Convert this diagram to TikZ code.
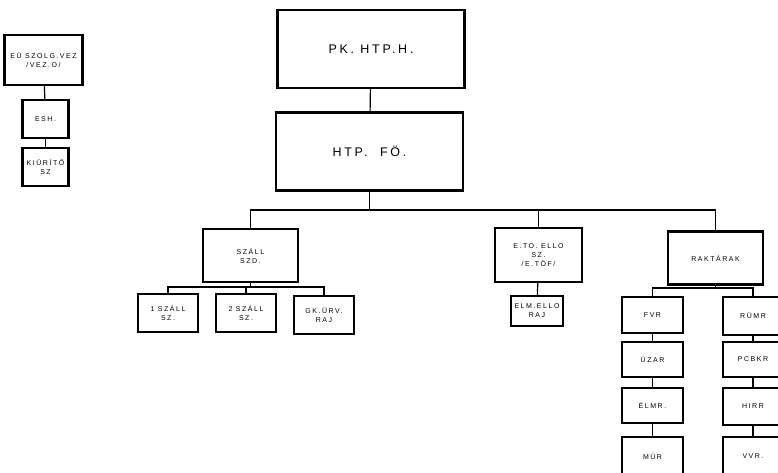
\documentclass[tikz,border=0pt]{standalone}
\usepackage{fontspec}
\newfontfamily\stencil[LetterSpace=22]{Liberation Sans}

\begin{document}
\begin{tikzpicture}[x=1pt,y=-1pt,
  box/.style={draw, line width=2.2pt, align=center, inner sep=0pt,
    font=\stencil\fontsize{7}{9}\selectfont},
  bigbox/.style={box, minimum width=187pt, minimum height=78pt,
    font=\stencil\fontsize{12.5}{14}\selectfont},
  midbox/.style={box, minimum width=95pt, minimum height=53pt},
  unitbox/.style={box, minimum width=60pt, minimum height=38pt},
  link/.style={line width=1.2pt}]
\useasboundingbox (0,0) rectangle (778,472);
\clip (0,0) rectangle (778,472);
\coordinate (bar) at (0,210);
% left column
\node[box, minimum width=78pt, minimum height=50pt] (eu) at (43.5,60) {EÜ SZOLG.VEZ\\/VEZ.O/};
\node[box, minimum width=46pt, minimum height=38pt] (esh) at (45.5,119) {ESH.};
\node[box, minimum width=46pt, minimum height=38pt] (kiur) at (45.5,167) {KIÜRÍTŐ\\SZ};
\draw[link] (eu) -- (esh);
\draw[link] (esh) -- (kiur);
% top
\node[bigbox] (pk) at (371,49) {PK. HTP.H.};
\node[bigbox] (fo) at (369.5,151.5) {HTP. \ FÖ.};
\draw[link] (pk) -- (fo);
% second level
\node[midbox] (szall) at (250.5,255.5) {SZÁLL\\SZD.};
\node[box, minimum width=87pt, minimum height=54pt] (eto) at (538.5,255) {E.TO. ELLO\\SZ.\\/E.TÖF/};
\node[midbox] (rak) at (715.5,258) {RAKTÁRAK};
\draw[link] (fo.south) -- (fo.south |- bar) -| (szall.north);
\draw[link] (fo.south |- bar) -| (eto.north);
\draw[link] (eto.north |- bar) -| (rak.north);
% under SZALL
\node[unitbox] (szone) at (168,313) {1 SZÁLL\\SZ.};
\node[unitbox] (sztwo) at (246,313) {2 SZÁLL\\SZ.};
\node[unitbox] (gk) at (324,315) {GK.ÜRV.\\RAJ};
\coordinate (subbar) at (0,287);
\draw[link] (szall.south) -- (szall.south |- subbar) -| (szone.north);
\draw[link] (szall.south |- subbar) -| (gk.north);
\draw[link] (sztwo.north) -- (sztwo.north |- subbar);
% under ETO
\node[box, minimum width=52pt, minimum height=30pt] (elm) at (537,311) {ELM.ELLO\\RAJ};
\draw[link] (eto) -- (elm);
% raktarak
\coordinate (rakbar) at (0,288);
\node[unitbox, minimum width=61pt, minimum height=36pt] (fvr) at (652.5,315) {FVR};
\node[unitbox, minimum width=61pt, minimum height=35pt] (uzar) at (652.5,359.5) {ÚZAR};
\node[unitbox, minimum width=61pt, minimum height=35pt] (elmr) at (652.5,405.5) {ÉLMR.};
\node[unitbox, minimum width=61pt, minimum height=38pt] (mur) at (652.5,456) {MÚR};
\node[unitbox] (rumr) at (753,316) {RÜMR};
\node[unitbox, minimum height=35pt] (pcbkr) at (753,359.5) {PCBKR};
\node[unitbox, minimum height=37pt] (hirr) at (753,406.5) {HIRR};
\node[unitbox] (vvr) at (753,456) {VVR.};
\draw[link] (rak.south) -- (rak.south |- rakbar) -| (fvr.north);
\draw[link] (rak.south |- rakbar) -| (rumr.north);
\draw[link] (fvr) -- (uzar);
\draw[link] (uzar) -- (elmr);
\draw[link] (elmr) -- (mur);
\draw[link] (rumr) -- (pcbkr);
\draw[link] (pcbkr) -- (hirr);
\draw[link] (hirr) -- (vvr);
\end{tikzpicture}
\end{document}
